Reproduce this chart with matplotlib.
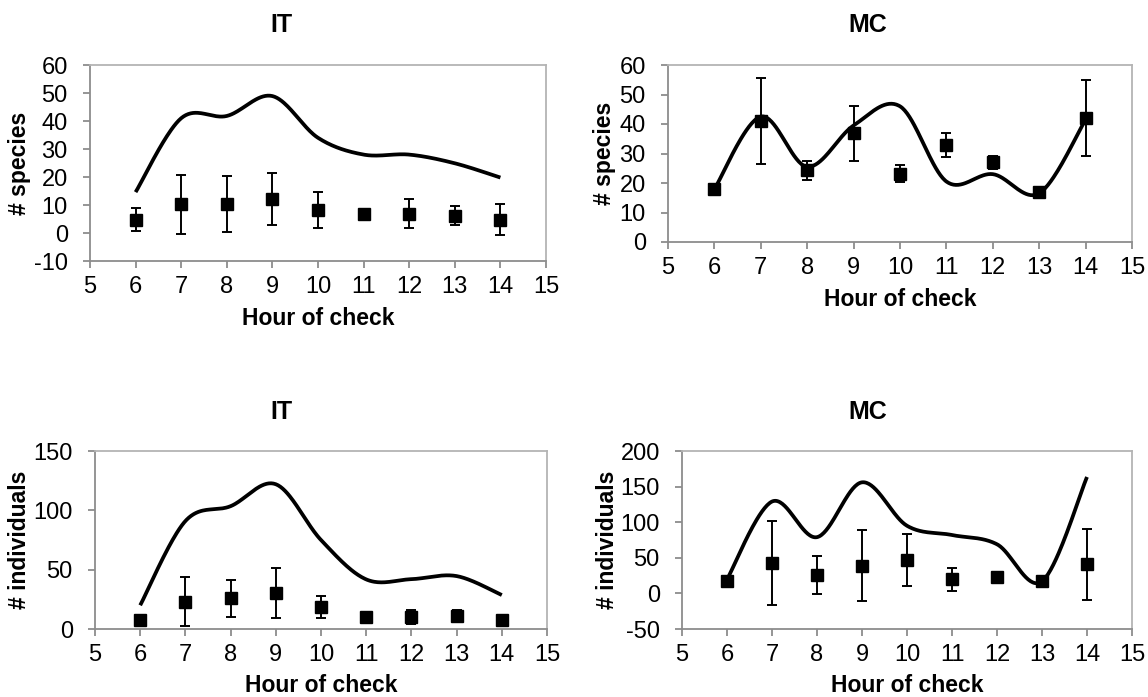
import numpy as np
import matplotlib
matplotlib.use('Agg')
import matplotlib.pyplot as plt

# Data
#-----------------------------------------------------------------------------#
hours = [6, 7, 8, 9, 10, 11, 12, 13, 14]

it_sp_line  = [14.6, 41.0, 41.8, 48.9, 34.0, 28.0, 28.0, 24.9, 19.8]
it_sp_mean  = [4.8, 10.2, 10.5, 12.1, 8.3, 6.9, 6.9, 6.2, 4.8]
it_sp_err   = [4.2, 10.5, 10.0, 9.3, 6.5, 0.0, 5.1, 3.4, 5.6]

mc_sp_line  = [17.9, 42.5, 25.5, 39.5, 46.0, 20.5, 23.0, 16.5, 41.5]
mc_sp_mean  = [18.0, 41.0, 24.3, 36.9, 23.1, 32.9, 27.0, 16.8, 42.0]
mc_sp_err   = [0.0, 14.6, 3.3, 9.3, 2.9, 4.0, 2.2, 0.0, 12.8]

it_ind_line = [20.0, 91.0, 103.5, 122.0, 75.0, 41.8, 42.0, 44.6, 28.6]
it_ind_mean = [7.6, 23.0, 25.8, 30.5, 18.8, 10.4, 10.4, 11.2, 7.6]
it_ind_err  = [4.0, 20.6, 15.4, 21.3, 9.4, 0.0, 6.0, 4.5, 4.0]

mc_ind_line = [19.6, 129.0, 79.0, 156.0, 95.0, 82.0, 69.0, 17.0, 163.5]
mc_ind_mean = [17.0, 42.5, 25.7, 38.8, 46.7, 20.0, 22.4, 16.8, 40.7]
mc_ind_err  = [0.0, 59.0, 27.0, 49.8, 36.4, 16.1, 0.0, 0.0, 50.0]

# Excel-like smoothed line (Catmull-Rom Bezier)
#-----------------------------------------------------------------------------#
def smooth(x, y, n=40):
    pts = np.column_stack([x, y]).astype(float)
    p   = np.vstack([pts[0], pts, pts[-1]])
    out = []
    t   = np.linspace(0, 1, n)[:, None]
    for i in range(len(pts)-1):
        p0, p1, p2, p3 = p[i], p[i+1], p[i+2], p[i+3]
        c1  = p1 + (p2-p0)/6
        c2  = p2 - (p3-p1)/6
        seg = (1-t)**3*p1 + 3*(1-t)**2*t*c1 + 3*(1-t)*t**2*c2 + t**3*p2
        out.append(seg if i == 0 else seg[1:])
    return np.vstack(out)

plt.rcParams['font.family'] = ['Liberation Sans', 'DejaVu Sans']
plt.rcParams['axes.unicode_minus'] = False

W, H = 1148, 697
fig = plt.figure(figsize=(W/100, H/100), dpi=100)

# panels: (left, right, top, bottom) in pixels
panels = [
    dict(box=(90, 546, 65, 261),  line=it_sp_line,  mean=it_sp_mean,  err=it_sp_err,
         ylim=(-10, 60), yticks=np.arange(-10, 61, 10), ylab='# species',
         title='IT', tx=281, ty=25, lx=20),
    dict(box=(668, 1132, 65, 242), line=mc_sp_line, mean=mc_sp_mean, err=mc_sp_err,
         ylim=(0, 60), yticks=np.arange(0, 61, 10), ylab='# species',
         title='MC', tx=868, ty=25, lx=605),
    dict(box=(95, 547, 451, 629), line=it_ind_line, mean=it_ind_mean, err=it_ind_err,
         ylim=(0, 150), yticks=np.arange(0, 151, 50), ylab='# individuals',
         title='IT', tx=281, ty=412, lx=20),
    dict(box=(682, 1132, 451, 629), line=mc_ind_line, mean=mc_ind_mean, err=mc_ind_err,
         ylim=(-50, 200), yticks=np.arange(-50, 201, 50), ylab='# individuals',
         title='MC', tx=868, ty=412, lx=607),
]

axis_col   = '#8c8c8c'
border_col = '#b4b4b4'

for p in panels:
    l, r, t, b = p['box']
    ax = fig.add_axes([l/W, 1-b/H, (r-l)/W, (b-t)/H])
    s  = smooth(hours, p['line'])
    ax.plot(s[:, 0], s[:, 1], color='black', linewidth=2.7, solid_capstyle='butt', zorder=2)
    ax.errorbar(hours, p['mean'], yerr=p['err'], fmt='s', color='black',
                markersize=9, elinewidth=1.4, capsize=3.5, capthick=1.4, zorder=3)
    ax.set_xlim(5, 15)
    ax.set_ylim(*p['ylim'])
    ax.set_xticks(np.arange(5, 16, 1))
    ax.set_yticks(p['yticks'])
    ax.tick_params(axis='both', labelsize=17, color=axis_col, length=5, width=1.3,
                   direction='out')
    ax.tick_params(axis='x', pad=6)
    ax.tick_params(axis='y', pad=11)
    ax.spines['left'].set_color(axis_col)
    ax.spines['bottom'].set_color(axis_col)
    ax.spines['top'].set_color(border_col)
    ax.spines['right'].set_color(border_col)
    for sp in ax.spines.values():
        sp.set_linewidth(1.3)
    fig.text(p['tx']/W, 1-p['ty']/H, p['title'], ha='center', va='center',
             fontsize=18, fontweight='bold')
    fig.text(p['lx']/W, 1-((t+b)/2)/H, p['ylab'], ha='center', va='center',
             rotation=90, fontsize=16.5, fontweight='bold')
    fig.text(((l+r)/2)/W, 1-(b+57)/H, 'Hour of check', ha='center', va='center',
             fontsize=16.5, fontweight='bold')

fig.savefig('out.png', dpi=100)
